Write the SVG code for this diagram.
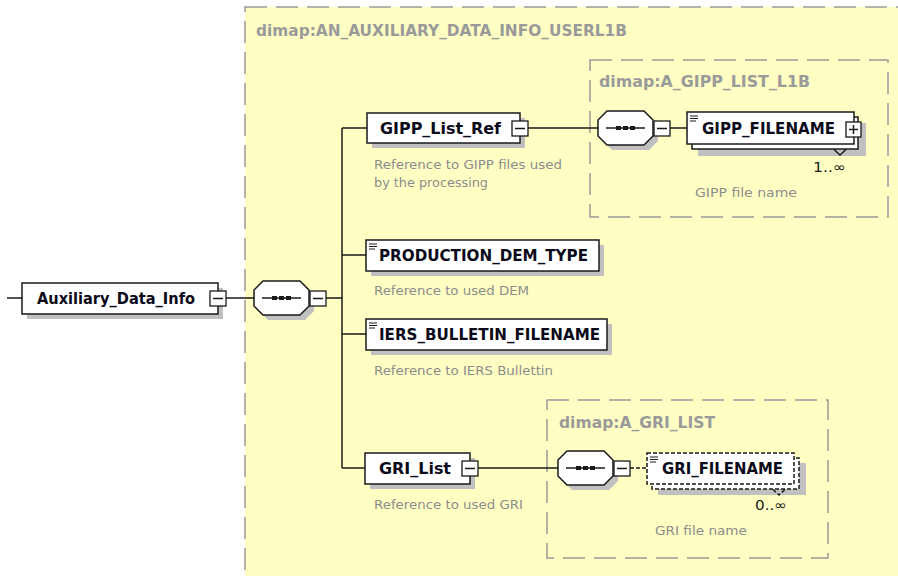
<svg xmlns="http://www.w3.org/2000/svg" width="898" height="576" viewBox="0 0 898 576">
<style>
.bg{fill:#fff}
.group{fill:#ffffc4;stroke:#9a9a9a;stroke-width:1.5;stroke-dasharray:22 9}
.sub{fill:none;stroke:#9a9a9a;stroke-width:1.5;stroke-dasharray:22 9}
.glabel{font-family:"DejaVu Sans","Liberation Sans",sans-serif;font-size:15px;font-weight:bold;fill:#9a9a9a}
.box{fill:#fff;stroke:#1a1a1a;stroke-width:1.5}
.dbox{fill:#fff;stroke:#1a1a1a;stroke-width:1.5;stroke-dasharray:4 2}
.shadow{fill:#c0c0c0}
.name{font-family:"DejaVu Sans","Liberation Sans",sans-serif;font-size:16px;font-weight:bold;fill:#0a0a1a}
.desc{font-family:"DejaVu Sans","Liberation Sans",sans-serif;font-size:13px;fill:#8c8c8c}
.mult{font-family:"DejaVu Sans","Liberation Sans",sans-serif;font-size:14px;fill:#1a1a1a}
.ln{fill:none;stroke:#1a1a1a;stroke-width:1.5}
.dln{fill:none;stroke:#1a1a1a;stroke-width:1.5;stroke-dasharray:4 2}
.btn{fill:#fff;stroke:#1a1a1a;stroke-width:1.3}
</style>
<defs>
<g id="seq">
<polygon points="14,5 51,5 60,14 60,30 51,39 14,39 5,30 5,14" class="shadow"/>
<polygon points="9,0 46,0 55,9 55,25 46,34 9,34 0,25 0,9" class="box"/>
<line x1="8" y1="17" x2="47" y2="17" class="ln"/>
<rect x="18" y="15" width="5" height="4" fill="#1a1a1a"/>
<rect x="25" y="15" width="5" height="4" fill="#1a1a1a"/>
<rect x="32" y="15" width="5" height="4" fill="#1a1a1a"/>
</g>
<g id="minus">
<rect x="0" y="0" width="16" height="15" class="btn"/>
<line x1="3" y1="7.5" x2="13" y2="7.5" class="ln" stroke-width="1.3"/>
</g>
<g id="plus">
<rect x="0" y="0" width="15" height="15" class="btn"/>
<line x1="3" y1="7.5" x2="12" y2="7.5" class="ln" stroke-width="1.3"/>
<line x1="7.5" y1="3" x2="7.5" y2="12" class="ln" stroke-width="1.3"/>
</g>
<g id="txt">
<line x1="3" y1="4" x2="11" y2="4" stroke="#1a1a1a" stroke-width="1"/>
<line x1="3" y1="6.5" x2="11" y2="6.5" stroke="#1a1a1a" stroke-width="1"/>
<line x1="3" y1="9" x2="9" y2="9" stroke="#1a1a1a" stroke-width="1"/>
</g>
</defs>
<rect x="0" y="0" width="898" height="576" class="bg"/>

<g id="type-auxiliary">
<rect x="245" y="7" width="700" height="620" class="group"/>
<text x="256" y="36" class="glabel" textLength="371" lengthAdjust="spacingAndGlyphs">dimap:AN_AUXILIARY_DATA_INFO_USERL1B</text>
</g>

<g id="type-gipp-list">
<rect x="590" y="60" width="298" height="157" class="sub"/>
<text x="599" y="87" class="glabel" textLength="211" lengthAdjust="spacingAndGlyphs">dimap:A_GIPP_LIST_L1B</text>
</g>

<g id="type-gri-list">
<rect x="547" y="400" width="281" height="158" class="sub"/>
<text x="559" y="428" class="glabel" textLength="156" lengthAdjust="spacingAndGlyphs">dimap:A_GRI_LIST</text>
</g>

<g id="connectors">
<line x1="7" y1="298" x2="22" y2="298" class="ln"/>
<line x1="226" y1="298" x2="254" y2="298" class="ln"/>
<line x1="326" y1="298" x2="342" y2="298" class="ln"/>
<line x1="342" y1="128" x2="342" y2="468" class="ln"/>
<line x1="342" y1="128" x2="367" y2="128" class="ln"/>
<line x1="342" y1="255" x2="366" y2="255" class="ln"/>
<line x1="342" y1="334" x2="366" y2="334" class="ln"/>
<line x1="342" y1="468" x2="365" y2="468" class="ln"/>
<line x1="528" y1="128" x2="598" y2="128" class="ln"/>
<line x1="670" y1="128" x2="687" y2="128" class="ln"/>
<line x1="478" y1="468" x2="558" y2="468" class="ln"/>
<line x1="630" y1="468" x2="647" y2="468" class="dln"/>
</g>

<g id="node-auxiliary-data-info">
<rect x="27" y="288" width="196" height="31" class="shadow"/>
<rect x="22" y="283" width="196" height="31" class="box"/>
<text x="37" y="304" class="name" textLength="158" lengthAdjust="spacingAndGlyphs">Auxiliary_Data_Info</text>
<use href="#minus" x="210" y="291"/>
</g>

<g id="node-sequence-main">
<use href="#seq" x="254" y="281"/>
<use href="#minus" x="310" y="291"/>
</g>

<g id="node-gipp-list-ref">
<rect x="372" y="118" width="153" height="30" class="shadow"/>
<rect x="367" y="113" width="153" height="30" class="box"/>
<text x="380" y="134" class="name" textLength="121" lengthAdjust="spacingAndGlyphs">GIPP_List_Ref</text>
<use href="#minus" x="512" y="121"/>
<text x="374" y="169" class="desc" textLength="188" lengthAdjust="spacingAndGlyphs">Reference to GIPP files used</text>
<text x="374" y="187" class="desc" textLength="114" lengthAdjust="spacingAndGlyphs">by the processing</text>
</g>

<g id="node-production-dem-type">
<rect x="371" y="245" width="233" height="31" class="shadow"/>
<rect x="366" y="240" width="233" height="31" class="box"/>
<use href="#txt" x="366" y="240"/>
<text x="379" y="261" class="name" textLength="209" lengthAdjust="spacingAndGlyphs">PRODUCTION_DEM_TYPE</text>
<text x="374" y="295" class="desc" textLength="155" lengthAdjust="spacingAndGlyphs">Reference to used DEM</text>
</g>

<g id="node-iers-bulletin-filename">
<rect x="371" y="324" width="241" height="31" class="shadow"/>
<rect x="366" y="319" width="241" height="31" class="box"/>
<use href="#txt" x="366" y="319"/>
<text x="379" y="340" class="name" textLength="221" lengthAdjust="spacingAndGlyphs">IERS_BULLETIN_FILENAME</text>
<text x="374" y="375" class="desc" textLength="179" lengthAdjust="spacingAndGlyphs">Reference to IERS Bullettin</text>
</g>

<g id="node-gri-list">
<rect x="370" y="458" width="105" height="31" class="shadow"/>
<rect x="365" y="453" width="105" height="31" class="box"/>
<text x="379" y="474" class="name" textLength="72" lengthAdjust="spacingAndGlyphs">GRI_List</text>
<use href="#minus" x="462" y="461"/>
<text x="374" y="509" class="desc" textLength="149" lengthAdjust="spacingAndGlyphs">Reference to used GRI</text>
</g>

<g id="node-sequence-gipp">
<use href="#seq" x="598" y="111"/>
<use href="#minus" x="654" y="121"/>
</g>

<g id="node-gipp-filename">
<rect x="698" y="123" width="168" height="33" class="shadow"/>
<rect x="692" y="117" width="166" height="32" class="box"/>
<rect x="687" y="112" width="167" height="32" class="box"/>
<use href="#txt" x="687" y="112"/>
<text x="702" y="134" class="name" textLength="133" lengthAdjust="spacingAndGlyphs">GIPP_FILENAME</text>
<use href="#plus" x="846" y="122"/>
<polyline points="834,149.5 840,155 846,149.5" class="ln" fill="#fff"/>
<text x="813" y="172" class="mult" textLength="33" lengthAdjust="spacingAndGlyphs">1..∞</text>
<text x="746" y="197" class="desc" text-anchor="middle" textLength="102" lengthAdjust="spacingAndGlyphs">GIPP file name</text>
</g>

<g id="node-sequence-gri">
<use href="#seq" x="558" y="451"/>
<use href="#minus" x="614" y="461"/>
</g>

<g id="node-gri-filename">
<rect x="658" y="463" width="148" height="32" class="shadow"/>
<rect x="652" y="458" width="147" height="31" class="dbox"/>
<rect x="647" y="453" width="147" height="31" class="dbox"/>
<use href="#txt" x="647" y="453"/>
<text x="662" y="474" class="name" textLength="121" lengthAdjust="spacingAndGlyphs">GRI_FILENAME</text>
<polyline points="773,489.5 779,495 785,489.5" class="dln" fill="#fff"/>
<text x="755" y="510" class="mult" textLength="32" lengthAdjust="spacingAndGlyphs">0..∞</text>
<text x="701" y="535" class="desc" text-anchor="middle" textLength="92" lengthAdjust="spacingAndGlyphs">GRI file name</text>
</g>
</svg>
